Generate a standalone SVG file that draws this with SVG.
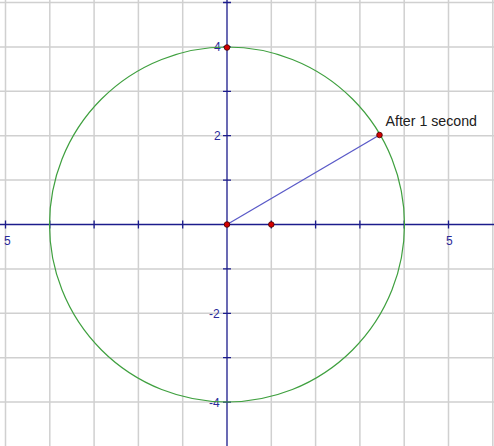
<svg xmlns="http://www.w3.org/2000/svg" width="494" height="446" viewBox="0 0 494 446">
<style>
.grid{stroke:#d0d0d0;stroke-width:1.5;fill:none}
.axis{stroke:#1c1c8c;stroke-width:1.3;fill:none}
.lbl{font-family:"Liberation Sans",Arial,sans-serif;font-size:12px;fill:#2a2a9a}
.pt{fill:#d40000;stroke:#400000;stroke-width:0.8}
</style>
<rect width="494" height="446" fill="#ffffff"/>
<g id="grid">
<path class="grid" d="M5.5 0V446M49.8 0V446M94.1 0V446M138.4 0V446M182.7 0V446M271.3 0V446M315.6 0V446M359.9 0V446M404.2 0V446M448.5 0V446M492.8 0V446"/>
<path class="grid" d="M0 2.5H494M0 46.9H494M0 91.3H494M0 135.7H494M0 180.1H494M0 268.9H494M0 313.3H494M0 357.7H494M0 402.1H494"/>
</g>
<g id="axes">
<path class="axis" d="M0 224.5H494M227 0V446"/>
<path class="axis" d="M5.5 220.5V228.5M49.8 220.5V228.5M94.1 220.5V228.5M138.4 220.5V228.5M182.7 220.5V228.5M271.3 220.5V228.5M315.6 220.5V228.5M359.9 220.5V228.5M404.2 220.5V228.5M448.5 220.5V228.5"/>
<path class="axis" d="M223 2.5H231M223 46.9H231M223 91.3H231M223 135.7H231M223 180.1H231M223 268.9H231M223 313.3H231M223 357.7H231M223 402.1H231"/>
<text class="lbl" x="4" y="245">5</text>
<text class="lbl" x="446" y="245">5</text>
<text class="lbl" x="214" y="51">4</text>
<text class="lbl" x="214" y="140">2</text>
<text class="lbl" x="209" y="318">-2</text>
<text class="lbl" x="209" y="407">-4</text>
</g>
<g id="circle">
<circle cx="227" cy="224.5" r="177.5" fill="none" stroke="#3fa03f" stroke-width="1.2"/>
</g>
<g id="connectors">
<line x1="227" y1="224.5" x2="379.5" y2="135" stroke="#5a5ac8" stroke-width="1.3"/>
</g>
<g id="points">
<circle class="pt" cx="227" cy="224.5" r="2.8"/>
<circle class="pt" cx="271.3" cy="224.5" r="2.8"/>
<circle class="pt" cx="227" cy="47.5" r="2.8"/>
<circle class="pt" cx="379.5" cy="135" r="2.8"/>
</g>
<g id="label">
<text x="385.5" y="126" font-family="Liberation Sans,Arial,sans-serif" font-size="14.2" fill="#202020">After 1 second</text>
</g>
</svg>
